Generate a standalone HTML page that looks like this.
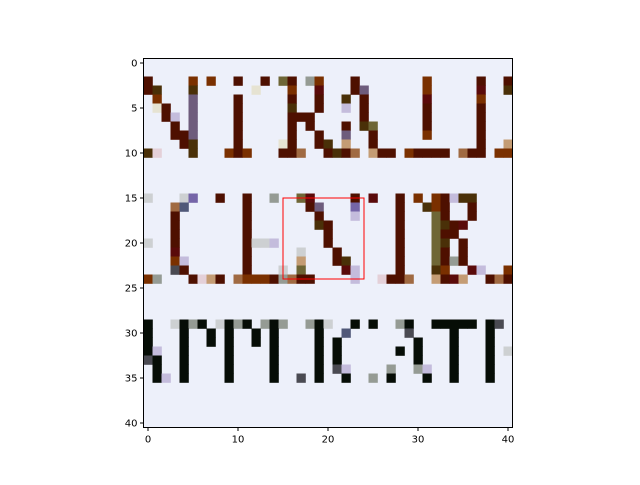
<!DOCTYPE html>
<html><head><meta charset="utf-8"><style>
html,body{margin:0;padding:0;background:#fff;}
svg text{font-family:"DejaVu Sans","Liberation Sans",sans-serif;font-size:10px;fill:#000;}
</style></head>
<body>
<svg id="chart" width="640" height="480" viewBox="0 0 640 480">
<rect width="640" height="480" fill="#fff"/>
<g id="cells"></g>
<rect id="frame" fill="none" stroke="#000" stroke-width="1"/>
<rect id="roi" fill="none" stroke="#ff0000" stroke-width="1"/>
<g id="xaxis"></g>
<g id="yaxis"></g>
</svg>
<script>
// sparse rows: "col+colorcode" entries; unlisted cells are background
const imageRows = [
"", "",
"0b 5o 7o 10b 13b 15v 16b 18g 19o 23b 31o 37b 40b",
"0b 1d 5d 12c 16o 19r 23b 24p 31o 37r 40d",
"1o 5p 10b 16b 19b 22d 24b 31r 37o",
"1c 2b 5p 10b 16d 19b 22l 24b 31b 37b",
"2b 3l 5p 10b 16b 17b 18b 24b 31b 37b",
"3b 5p 10b 16b 18b 22b 24d 25v 31b 37b",
"3b 4b 5p 10b 16b 19b 22p 25b 31o 37b",
"4b 5d 10b 15c 16b 19b 20d 22t 25b 37b 40t",
"0d 1n 5d 9o 10b 11o 15b 16b 17T 20b 21d 22b 23T 25t 26b 27b 29o 30b 31b 32b 33b 35T 36b 37b 39o 40o",
"", "", "", "",
"0G 4G 5P 8b 11b 14g 17v 18r 23b 25r 28b 30o 32o 33b 34l 35d 36d",
"3T 4s 11b 18b 19p 23P 28b 31d 32o 33b 36b",
"3b 11b 19b 23l 28b 32v 33b 36b",
"3b 11b 19d 20b 28b 32v 33d 34b 35r",
"3b 11b 20b 28b 32v 33b 34b",
"0G 3b 11b 12G 13G 14l 20b 28b 32v 33d 35b",
"3r 11b 17G 21b 28b 32v 33b 35b",
"3o 4l 11b 17t 21b 22d 28b 32v 33b 34g 35b",
"3K 4b 11b 15G 17v 22r 23l 28b 32d 33o 36r 37l 40o",
"0o 1g 5b 6n 7t 8b 10T 11o 12o 13o 14b 15g 16T 17b 18b 23l 26n 27b 28b 29T 32t 33b 34r 35t 38b 39T 40b",
"", "", "", "",
"0k 3G 4k 5g 6k 8G 9k 10g 11k 13g 14k 15g 18g 19k 20G 23k 25k 28g 29k 32k 33k 34k 35k 36k 38k 39K",
"0k 4k 7k 9k 12k 14k 19k 22s 29K 34k 38k",
"0k 4k 7k 9k 12k 14k 19k 21k 30k 34k 38k",
"0k 1l 4k 9k 14k 19k 21k 28k 30k 34k 38k 40G",
"0K 1k 4k 9k 14k 19k 21k 30k 34k 38k",
"1k 4k 9k 14k 19k 21K 22l 27g 30g 31l 34k 38k",
"1k 2l 4k 9k 14k 17K 19k 22k 25g 27k 31k 34k 38k",
"", "", "", "", ""
];
const palette = {
".":"#edf0fa","b":"#4e1000","r":"#5a0a0a","o":"#7a3000","d":"#4a3008",
"v":"#6e6636","p":"#6e5c7c","P":"#7565a8","l":"#c4bcdc","t":"#c49c74",
"T":"#a06a42","g":"#959b94","G":"#cdd0d2","k":"#060d06","K":"#4a4a52",
"s":"#505878","c":"#e6e3d2","n":"#e4d0d8"
};
const xTicks = [0,10,20,30,40];
const yTicks = [0,5,10,15,20,25,30,35,40];
const roiBox = [15,15,24,24];

const NS="http://www.w3.org/2000/svg";
const L=143.5, T=58.5, N=41, S=369/41;
const sx = v => L + (v+0.5)*S;
const sy = v => T + (v+0.5)*S;
const cells=document.getElementById('cells');
const bg=document.createElementNS(NS,'rect');
bg.setAttribute('x',L);bg.setAttribute('y',T);bg.setAttribute('width',N*S);bg.setAttribute('height',N*S);
bg.setAttribute('fill',palette['.']);


cells.appendChild(bg);
imageRows.forEach((row,r)=>{
  row.split(' ').filter(s=>s).forEach(tok=>{
    const c=parseInt(tok,10);
    const code=tok.replace(/^\d+/,'');
    const rc=document.createElementNS(NS,'rect');
    rc.setAttribute('x',(L+c*S).toFixed(2));
    rc.setAttribute('y',(T+r*S).toFixed(2));
    rc.setAttribute('width',(S+0.3).toFixed(2));
    rc.setAttribute('height',(S+0.3).toFixed(2));
    rc.setAttribute('fill',palette[code]||palette['.']);
    
    
    cells.appendChild(rc);
  });
});
const fr=document.getElementById('frame');
fr.setAttribute('x',L);fr.setAttribute('y',T);fr.setAttribute('width',N*S);fr.setAttribute('height',N*S);
const roi=document.getElementById('roi');
roi.setAttribute('x',sx(roiBox[0]));roi.setAttribute('y',sy(roiBox[1]));
roi.setAttribute('width',sx(roiBox[2])-sx(roiBox[0]));roi.setAttribute('height',sy(roiBox[3])-sy(roiBox[1]));
const xa=document.getElementById('xaxis');
xTicks.forEach(v=>{
  const x=sx(v);
  const ln=document.createElementNS(NS,'line');
  ln.setAttribute('x1',x);ln.setAttribute('x2',x);ln.setAttribute('y1',T+N*S);ln.setAttribute('y2',T+N*S+3.5);
  ln.setAttribute('stroke','#000');
  
  
  xa.appendChild(ln);
  const tx=document.createElementNS(NS,'text');
  tx.setAttribute('x',x);tx.setAttribute('y',T+N*S+15);tx.setAttribute('text-anchor','middle');
  tx.textContent=v;
  
  
  xa.appendChild(tx);
});
const ya=document.getElementById('yaxis');
yTicks.forEach(v=>{
  const y=sy(v);
  const ln=document.createElementNS(NS,'line');
  ln.setAttribute('x1',L-3.5);ln.setAttribute('x2',L);ln.setAttribute('y1',y);ln.setAttribute('y2',y);
  ln.setAttribute('stroke','#000');
  
  
  ya.appendChild(ln);
  const tx=document.createElementNS(NS,'text');
  tx.setAttribute('x',L-6);tx.setAttribute('y',y+3.5);tx.setAttribute('text-anchor','end');
  tx.textContent=v;
  
  
  ya.appendChild(tx);
});
</script>
</body></html>
